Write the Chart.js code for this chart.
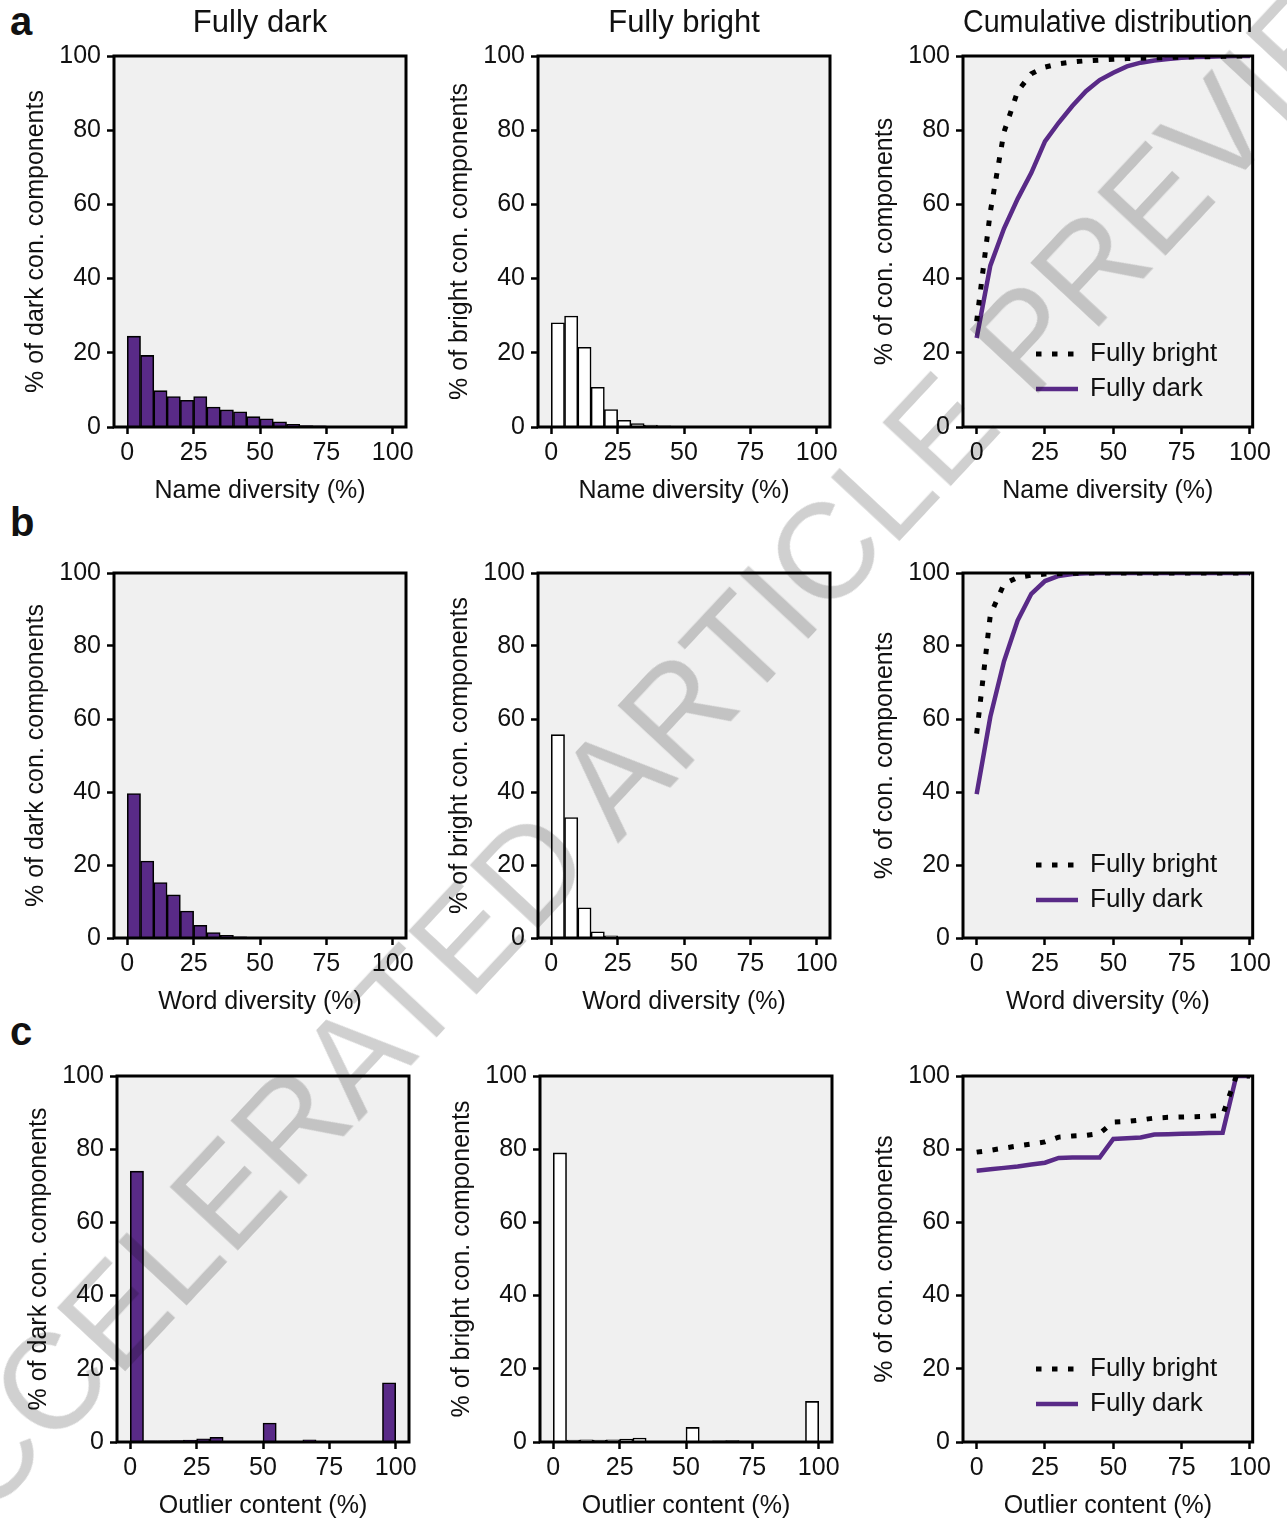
<!DOCTYPE html>
<html>
<head>
<meta charset="utf-8">
<script src="https://cdn.jsdelivr.net/npm/chart.js@4.4.1/dist/chart.umd.min.js"></script>
<style>
  body { margin: 0; width: 1287px; height: 1522px; position: relative; overflow: hidden; background: #fff; font-family: 'Liberation Sans', Arial, sans-serif; }
  .panel { position: absolute; }
  .letter { position: absolute; font-size: 40px; font-weight: bold; line-height: 1; color: #111; }
  .wm { position: absolute; white-space: nowrap; font-size: 135px; line-height: 1; color: #d0d0d0; mix-blend-mode: multiply; pointer-events: none; transform: translate(-50%, -50%) rotate(-47deg); z-index: 10; }
</style>
</head>
<body>
<div class="letter" style="left:10px; top:1px">a</div>
<div class="letter" style="left:10px; top:502px">b</div>
<div class="letter" style="left:10px; top:1011px">c</div>

<canvas id="a1" class="panel" width="412" height="509" style="left:14px; top:0px"></canvas>
<canvas id="a2" class="panel" width="412" height="509" style="left:438px; top:0px"></canvas>
<canvas id="a3" class="panel" width="412" height="509" style="left:863px; top:0px"></canvas>
<canvas id="b1" class="panel" width="412" height="468" style="left:14px; top:552px"></canvas>
<canvas id="b2" class="panel" width="412" height="468" style="left:438px; top:552px"></canvas>
<canvas id="b3" class="panel" width="412" height="468" style="left:863px; top:552px"></canvas>
<canvas id="c1" class="panel" width="412" height="469" style="left:17px; top:1055px"></canvas>
<canvas id="c2" class="panel" width="412" height="469" style="left:440px; top:1055px"></canvas>
<canvas id="c3" class="panel" width="412" height="469" style="left:863px; top:1055px"></canvas>

<div class="wm" style="left:655px; top:735px">ACCELERATED ARTICLE PREVIEW</div>

<script>
// histogram bins (5 % wide), centres
const binCenters = [2.5, 7.5, 12.5, 17.5, 22.5, 27.5, 32.5, 37.5, 42.5, 47.5, 52.5, 57.5, 62.5, 67.5, 72.5, 77.5, 82.5, 87.5, 92.5, 97.5];
// cumulative curve x positions
const cumX = [0, 5, 10, 15, 20, 25, 30, 35, 40, 45, 50, 55, 60, 65, 70, 75, 80, 85, 90, 95, 100];
const xTickVals = [0, 25, 50, 75, 100];

// a - name diversity
const nameDark = [24.5, 19.3, 9.8, 8.2, 7.2, 8.2, 5.4, 4.6, 4.1, 2.8, 2.2, 1.4, 0.7, 0.4, 0.3, 0.2, 0.1, 0.05, 0.05, 0.05];
const nameBright = [28.1, 29.9, 21.5, 10.7, 4.7, 1.8, 0.9, 0.5, 0.3, 0.2, 0.1, 0.1, 0.05, 0.05, 0.05, 0.05, 0.05, 0.05, 0.05, 0.1];
const nameCumDark = [24.0, 43.5, 53.5, 61.5, 68.5, 77.0, 82.0, 86.5, 90.5, 93.5, 95.5, 97.2, 98.2, 98.8, 99.2, 99.5, 99.7, 99.8, 99.9, 100, 100];
const nameCumBright = [28.5, 58.0, 79.5, 90.5, 95.2, 97.0, 97.9, 98.4, 98.7, 98.9, 99.1, 99.3, 99.4, 99.5, 99.6, 99.7, 99.8, 99.8, 99.9, 100, 100];

// b - word diversity
const wordDark = [39.6, 21.1, 15.2, 11.8, 7.4, 3.5, 1.5, 0.7, 0.3, 0.1, 0.05, 0.02, 0, 0, 0, 0, 0, 0, 0, 0];
const wordBright = [55.7, 33.0, 8.3, 1.7, 0.6, 0.2, 0.1, 0.05, 0.02, 0, 0, 0, 0, 0, 0, 0, 0, 0, 0, 0];
const wordCumDark = [39.4, 60.6, 75.8, 87.0, 94.3, 97.8, 99.2, 99.7, 99.9, 100, 100, 100, 100, 100, 100, 100, 100, 100, 100, 100, 100];
const wordCumBright = [56.0, 88.5, 97.0, 98.8, 99.4, 99.7, 99.8, 99.9, 100, 100, 100, 100, 100, 100, 100, 100, 100, 100, 100, 100, 100];

// c - outlier content
const outDark = [74.0, 0.3, 0.3, 0.4, 0.5, 0.9, 1.3, 0.2, 0.1, 0.1, 5.2, 0.1, 0.1, 0.6, 0.1, 0.1, 0.1, 0.1, 0.1, 16.2];
const outBright = [79.0, 0.5, 0.6, 0.5, 0.6, 0.8, 1.1, 0.2, 0.2, 0.2, 4.0, 0.2, 0.3, 0.4, 0.2, 0.1, 0.1, 0.1, 0.1, 11.1];
const outCumDark = [74.1, 74.5, 74.9, 75.3, 75.8, 76.3, 77.6, 77.7, 77.7, 77.7, 82.8, 83.0, 83.2, 84.0, 84.1, 84.2, 84.3, 84.4, 84.5, 100, 100];
const outCumBright = [79.2, 79.7, 80.3, 80.9, 81.4, 82.0, 83.3, 83.6, 83.8, 84.3, 87.4, 87.6, 88.0, 88.5, 88.7, 88.8, 88.9, 89.0, 89.3, 100, 100];

const purple = '#592a87';
const ink = '#111';
const FONT = "'Liberation Sans', Arial, sans-serif";

Chart.defaults.font.family = FONT;
Chart.defaults.font.size = 25;
Chart.defaults.color = ink;
Chart.defaults.animation = false;

// grey plot background + closed black box
const frame = {
    id: 'frame',
    beforeDraw(chart) {
        const a = chart.chartArea;
        chart.ctx.save();
        chart.ctx.fillStyle = '#f0f0f0';
        chart.ctx.fillRect(a.left, a.top, a.right - a.left, a.bottom - a.top);
        chart.ctx.restore();
    },
    afterDraw(chart) {
        const a = chart.chartArea;
        chart.ctx.save();
        chart.ctx.strokeStyle = '#000';
        chart.ctx.lineWidth = 3;
        chart.ctx.strokeRect(a.left, a.top, a.right - a.left, a.bottom - a.top);
        chart.ctx.restore();
    }
};

// legend drawn inside the plot, lower middle
const insideLegend = {
    id: 'insideLegend',
    afterDatasetsDraw(chart) {
        const ctx = chart.ctx;
        const a = chart.chartArea;
        ctx.save();
        chart.data.datasets.forEach((ds, i) => {
            const y = a.bottom - 73 + i * 35;
            const x0 = a.left + 73;
            ctx.beginPath();
            ctx.setLineDash(ds.borderDash || []);
            ctx.lineWidth = ds.borderWidth;
            ctx.strokeStyle = ds.borderColor;
            ctx.moveTo(x0, y);
            ctx.lineTo(x0 + 42, y);
            ctx.stroke();
            ctx.setLineDash([]);
            ctx.fillStyle = ink;
            ctx.font = '26px ' + FONT;
            ctx.textBaseline = 'middle';
            ctx.fillText(ds.label, x0 + 54, y);
        });
        ctx.restore();
    }
};

function axes(xTitle, yTitle, xMax) {
    return {
        x: {
            type: 'linear',
            min: -5,
            max: xMax,
            offset: false,
            afterBuildTicks: (s) => { s.ticks = xTickVals.map(v => ({ value: v })); },
            afterFit: (s) => { s.height = 82; },
            grid: { display: true, drawOnChartArea: false, offset: false, tickLength: 7, tickWidth: 2.5, tickColor: '#000', color: '#000' },
            border: { display: false },
            ticks: { padding: 4, maxRotation: 0, font: { size: 25 } },
            title: { display: true, text: xTitle, padding: { top: 0, bottom: 3 }, font: { size: 25 } }
        },
        y: {
            min: 0,
            max: 100,
            afterFit: (s) => { s.width = 100; },
            grid: { display: true, drawOnChartArea: false, tickLength: 7, tickWidth: 2.5, tickColor: '#000', color: '#000' },
            border: { display: false },
            ticks: { stepSize: 20, padding: 6, font: { size: 25 } },
            title: { display: true, text: yTitle, padding: { top: 7, bottom: 0 }, font: { size: 25 } }
        }
    };
}

function colTitle(text) {
    if (!text) return { display: false };
    return { display: true, text: text, fullSize: false, color: ink, font: { size: 31, weight: 'normal' }, padding: { top: 0, bottom: 13.8 } };
}

function histChart(id, values, fill, xTitle, yTitle, title) {
    const top = title ? 5 : 16;
    return new Chart(document.getElementById(id), {
        type: 'bar',
        data: {
            datasets: [{
                data: binCenters.map((c, i) => ({ x: c, y: values[i] })),
                backgroundColor: fill,
                borderColor: '#000',
                borderWidth: 1.6,
                barPercentage: 1,
                categoryPercentage: 1
            }]
        },
        options: {
            responsive: false,
            layout: { padding: { top: top, right: 20, bottom: 0, left: 0 } },
            plugins: { legend: { display: false }, tooltip: { enabled: false }, title: colTitle(title) },
            scales: axes(xTitle, yTitle, 105)
        },
        plugins: [frame]
    });
}

function cumChart(id, bright, dark, xTitle, title) {
    const top = title ? 5 : 16;
    return new Chart(document.getElementById(id), {
        type: 'line',
        data: {
            datasets: [{
                label: 'Fully bright',
                data: cumX.map((x, i) => ({ x: x, y: bright[i] })),
                borderColor: '#000',
                borderWidth: 5,
                borderDash: [5.5, 10.5],
                borderCapStyle: 'butt',
                pointRadius: 0,
                tension: 0,
                order: 0
            }, {
                label: 'Fully dark',
                data: cumX.map((x, i) => ({ x: x, y: dark[i] })),
                borderColor: purple,
                borderWidth: 4.5,
                pointRadius: 0,
                tension: 0,
                order: 1
            }]
        },
        options: {
            responsive: false,
            layout: { padding: { top: top, right: 20, bottom: 0, left: 0 } },
            plugins: { legend: { display: false }, tooltip: { enabled: false }, title: colTitle(title) },
            scales: axes(xTitle, '% of con. components', 101)
        },
        plugins: [frame, insideLegend]
    });
}

histChart('a1', nameDark, purple, 'Name diversity (%)', '% of dark con. components', 'Fully dark');
histChart('a2', nameBright, '#fff', 'Name diversity (%)', '% of bright con. components', 'Fully bright');
cumChart('a3', nameCumBright, nameCumDark, 'Name diversity (%)', 'Cumulative distribution');

histChart('b1', wordDark, purple, 'Word diversity (%)', '% of dark con. components');
histChart('b2', wordBright, '#fff', 'Word diversity (%)', '% of bright con. components');
cumChart('b3', wordCumBright, wordCumDark, 'Word diversity (%)');

histChart('c1', outDark, purple, 'Outlier content (%)', '% of dark con. components');
histChart('c2', outBright, '#fff', 'Outlier content (%)', '% of bright con. components');
cumChart('c3', outCumBright, outCumDark, 'Outlier content (%)');
</script>
</body>
</html>
